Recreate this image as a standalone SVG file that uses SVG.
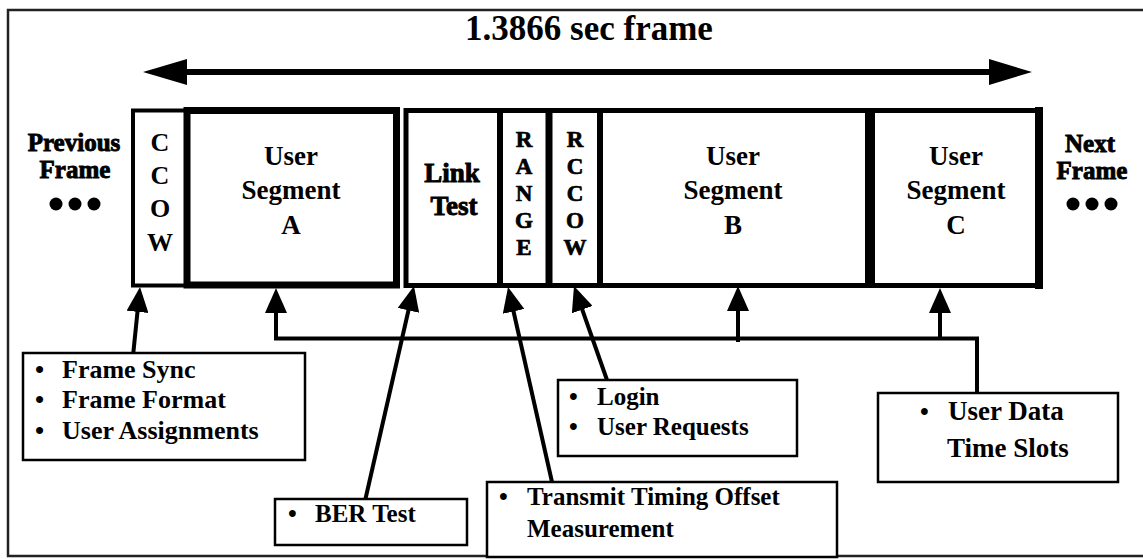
<svg xmlns="http://www.w3.org/2000/svg" width="1143" height="559" viewBox="0 0 1143 559">
<defs>
<style>
text{font-family:"Liberation Serif","Times New Roman",serif;font-weight:bold;fill:#000}
.t{font-size:27px;text-anchor:middle}
.h{font-size:25px;text-anchor:middle;stroke:#000;stroke-width:0.9}
.v{font-size:23px;text-anchor:middle;stroke:#000;stroke-width:0.7}
.b{font-size:25px}
.cell{fill:#fff;stroke:#000}
.box{fill:#fff;stroke:#000;stroke-width:2.5}
.con{fill:none;stroke:#000;stroke-width:4}
</style>
<marker id="ah" viewBox="0 0 25 22" refX="12" refY="11" markerWidth="25" markerHeight="22" markerUnits="userSpaceOnUse" orient="auto">
<path d="M0,0 L25,11 L0,22 Z" fill="#000"/>
</marker>
</defs>
<rect width="1143" height="559" fill="#fff"/>
<g id="border" fill="none" stroke="#222" stroke-width="2.5">
<path d="M1143,10 L8,10 L8,556 L1143,556"/>
</g>
<g id="title">
<text x="589" y="40" style="font-size:35px;text-anchor:middle">1.3866 sec frame</text>
</g>
<g id="span-arrow">
<line x1="185" y1="72" x2="991" y2="72" stroke="#000" stroke-width="6"/>
<path d="M143,72 L187,59 L187,85 Z" fill="#000"/>
<path d="M1032,72 L989,59 L989,85 Z" fill="#000"/>
</g>
<g id="previous-frame">
<text class="h" x="74" y="151">Previous</text>
<text class="h" x="75" y="178">Frame</text>
<circle cx="56" cy="204" r="6.5"/><circle cx="75" cy="204" r="6.5"/><circle cx="94" cy="204" r="6.5"/>
</g>
<g id="next-frame">
<text class="h" x="1090" y="152">Next</text>
<text class="h" x="1092" y="179">Frame</text>
<circle cx="1073" cy="204" r="6.5"/><circle cx="1092" cy="204" r="6.5"/><circle cx="1111" cy="204" r="6.5"/>
</g>
<g id="ccow">
<rect class="cell" x="133" y="110.5" width="54" height="175" stroke-width="4"/>
<text class="t" style="font-size:26px" x="160" y="151">C</text>
<text class="t" style="font-size:26px" x="160" y="184">C</text>
<text class="t" style="font-size:26px" x="160" y="217">O</text>
<text class="t" style="font-size:26px" x="160" y="251">W</text>
</g>
<g id="user-segment-a">
<rect class="cell" x="187" y="110.5" width="209.5" height="174.5" stroke-width="7"/>
<text class="t" x="291" y="165">User</text>
<text class="t" x="291" y="199">Segment</text>
<text class="t" x="291" y="234">A</text>
</g>
<g id="frame-right">
<rect class="cell" x="406" y="110.5" width="633" height="175" stroke-width="5"/>
<line x1="1039" y1="107" x2="1039" y2="289" stroke="#000" stroke-width="8"/>
<line x1="500" y1="110" x2="500" y2="285" stroke="#000" stroke-width="6"/>
<line x1="549" y1="110" x2="549" y2="285" stroke="#000" stroke-width="7"/>
<line x1="600" y1="110" x2="600" y2="285" stroke="#000" stroke-width="6"/>
<line x1="870" y1="110" x2="870" y2="285" stroke="#000" stroke-width="10"/>
</g>
<g id="link-test">
<text class="h" style="font-size:27px" x="452" y="182">Link</text>
<text class="h" style="font-size:27px" x="454" y="215">Test</text>
</g>
<g id="range">
<text class="v" x="524" y="147">R</text>
<text class="v" x="524" y="174">A</text>
<text class="v" x="524" y="201">N</text>
<text class="v" x="524" y="228">G</text>
<text class="v" x="524" y="255">E</text>
</g>
<g id="rccow">
<text class="v" x="575" y="147">R</text>
<text class="v" x="575" y="174">C</text>
<text class="v" x="575" y="201">C</text>
<text class="v" x="575" y="228">O</text>
<text class="v" x="575" y="255">W</text>
</g>
<g id="user-segment-b">
<text class="t" x="733" y="165">User</text>
<text class="t" x="733" y="199">Segment</text>
<text class="t" x="733" y="234">B</text>
</g>
<g id="user-segment-c">
<text class="t" x="956" y="165">User</text>
<text class="t" x="956" y="199">Segment</text>
<text class="t" x="956" y="234">C</text>
</g>
<g id="connectors">
<line class="con" x1="133" y1="356" x2="138.7" y2="299.9" marker-end="url(#ah)"/>
<line class="con" x1="365" y1="501" x2="411.1" y2="298.7" marker-end="url(#ah)"/>
<line class="con" x1="552" y1="482" x2="510.9" y2="299.7" marker-end="url(#ah)"/>
<line class="con" x1="607" y1="380" x2="578.3" y2="298.3" marker-end="url(#ah)"/>
<path class="con" d="M977,393 L977,338.5 L276,338.5 L276,301" marker-end="url(#ah)"/>
<line class="con" x1="738" y1="342" x2="738" y2="299" marker-end="url(#ah)"/>
<line class="con" x1="940" y1="340" x2="940" y2="301" marker-end="url(#ah)"/>
</g>
<g id="frame-sync-box">
<rect class="box" x="23" y="353" width="282" height="107"/>
<text class="b" style="font-size:26px" x="35" y="378">•</text><text class="b" style="font-size:26px" x="62" y="378">Frame Sync</text>
<text class="b" style="font-size:26px" x="35" y="408">•</text><text class="b" style="font-size:26px" x="62" y="408">Frame Format</text>
<text class="b" style="font-size:26px" x="35" y="439">•</text><text class="b" style="font-size:26px" x="62" y="439">User Assignments</text>
</g>
<g id="ber-box">
<rect class="box" x="275" y="499" width="192" height="46"/>
<text class="b" x="288" y="522">•</text><text class="b" x="315" y="522">BER Test</text>
</g>
<g id="transmit-box">
<rect class="box" x="487" y="482" width="350" height="75"/>
<text class="b" x="499" y="505">•</text><text class="b" x="527" y="505">Transmit Timing Offset</text>
<text class="b" x="527" y="537">Measurement</text>
</g>
<g id="login-box">
<rect class="box" x="558" y="380" width="239" height="76"/>
<text class="b" x="569" y="405">•</text><text class="b" x="597" y="405">Login</text>
<text class="b" x="569" y="435">•</text><text class="b" x="597" y="435">User Requests</text>
</g>
<g id="user-data-box">
<rect class="box" x="878" y="393" width="240" height="89" stroke-width="4"/>
<text class="b" x="920" y="420">•</text><text class="b" style="font-size:27px" x="948" y="420">User Data</text>
<text class="b" style="font-size:27px" x="947" y="457">Time Slots</text>
</g>
</svg>
